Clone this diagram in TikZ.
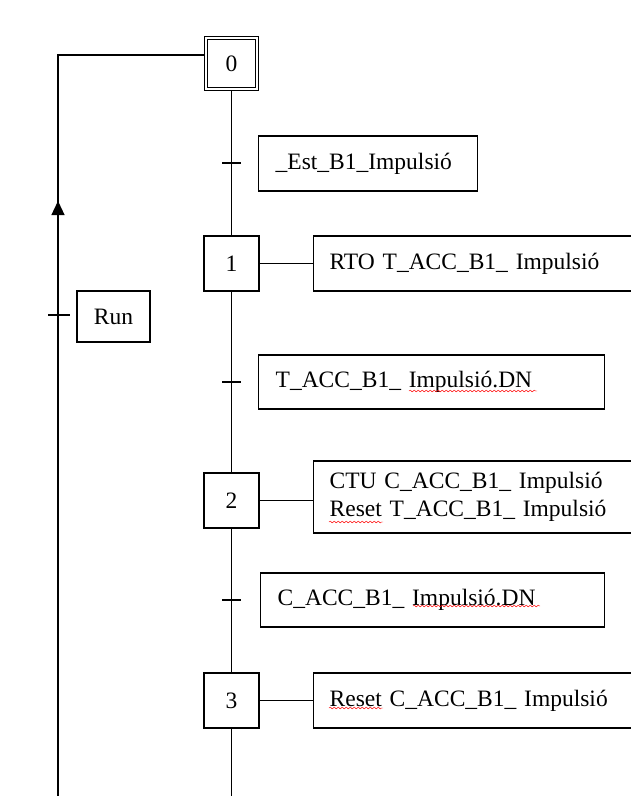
\documentclass[tikz,border=0pt]{standalone}
\usepackage{fontspec}
\setmainfont{Liberation Serif}
\usetikzlibrary{arrows.meta,decorations.markings,decorations.pathmorphing}
\begin{document}
\begin{tikzpicture}[x=1pt,y=-1pt,line width=1.3pt,
  txt/.style={font=\fontsize{23.5}{28}\selectfont},
  stepbox/.style={draw,txt,minimum width=55pt,minimum height=55pt,inner sep=0pt},
  initstep/.style={draw,txt,double,double distance=1.6pt,minimum width=51pt,minimum height=51pt,inner sep=0pt,outer sep=2pt},
  condbox/.style={draw,txt,anchor=west,inner xsep=17pt,inner ysep=0pt,align=left},
  actbox/.style={draw,txt,anchor=west,inner xsep=16pt,inner ysep=0pt,align=left,text width=308pt,minimum height=55pt},
  tick/.style={line width=1.3pt},
  wavy/.style={red,line width=0.45pt,decorate,decoration={snake,amplitude=0.9pt,segment length=4pt}}
]
\useasboundingbox (0,0) rectangle (631,796);
\clip (0,0) rectangle (631,796);
% steps
\node[initstep] (s0) at (231.5,63.5) {0};
\node[stepbox] (s1) at (231.5,263.5) {1};
\node[stepbox] (s2) at (231.5,500.5) {2};
\node[stepbox] (s3) at (231.5,700.5) {3};
% transitions
\coordinate (t0) at (231.5,163);
\coordinate (t1) at (231.5,382);
\coordinate (t2) at (231.5,600);
\coordinate (tr) at (58,315);
\coordinate (mb) at (231.5,796);
\coordinate (lb) at (58,796);
\coordinate (lc) at (58,55);
% condition boxes
\node[condbox,text width=185pt,minimum height=55pt] (c0) at (258,163.5) {\_Est\_B1\_Impulsió};
\node[condbox,text width=312pt,minimum height=54pt] (c1) at (258,382) {T\_ACC\_B1\_ Impulsió.DN};
\node[condbox,text width=310pt,minimum height=54pt] (c2) at (260,600) {C\_ACC\_B1\_ Impulsió.DN};
\node[draw,txt,minimum width=73pt,minimum height=51pt,inner sep=0pt] (run) at (113.5,316.5) {Run};
% action boxes
\node[actbox] (a1) at (313,263.5) {RTO T\_ACC\_B1\_ Impulsió};
\node[actbox,minimum height=72pt] (a2) at (313,497) {CTU C\_ACC\_B1\_ Impulsió\\Reset T\_ACC\_B1\_ Impulsió};
\node[actbox] (a3) at (313,700.5) {Reset C\_ACC\_B1\_ Impulsió};
% main line
\draw (s0.south) -- (s1.north);
\draw (s1.south) -- (s2.north);
\draw (s2.south) -- (s3.north);
\draw (s3.south) -- (mb);
% action links
\draw (s1.east) -- (a1.west);
\draw (s2.east) -- (s2.east -| a2.west);
\draw (s3.east) -- (a3.west);
% ticks
\foreach \t in {t0,t1,t2} \draw[tick] ([xshift=-9.5pt]\t) -- ([xshift=9.5pt]\t);
\draw[tick] ([xshift=-10pt]tr) -- ([xshift=12pt]tr);
% loop back
\draw[postaction={decorate},decoration={markings,mark=at position 595pt with {\arrow{Triangle[length=14pt,width=13pt]}}}]
  (lb) -- (lc) -- (lc -| s0.west);
% spell-check underlines
\draw[wavy] (409,391) -- (537,391);
\draw[wavy] (413,606) -- (540,606);
\draw[wavy] (329,522) -- (383,522);
\draw[wavy] (329,708) -- (383,708);
\end{tikzpicture}
\end{document}
